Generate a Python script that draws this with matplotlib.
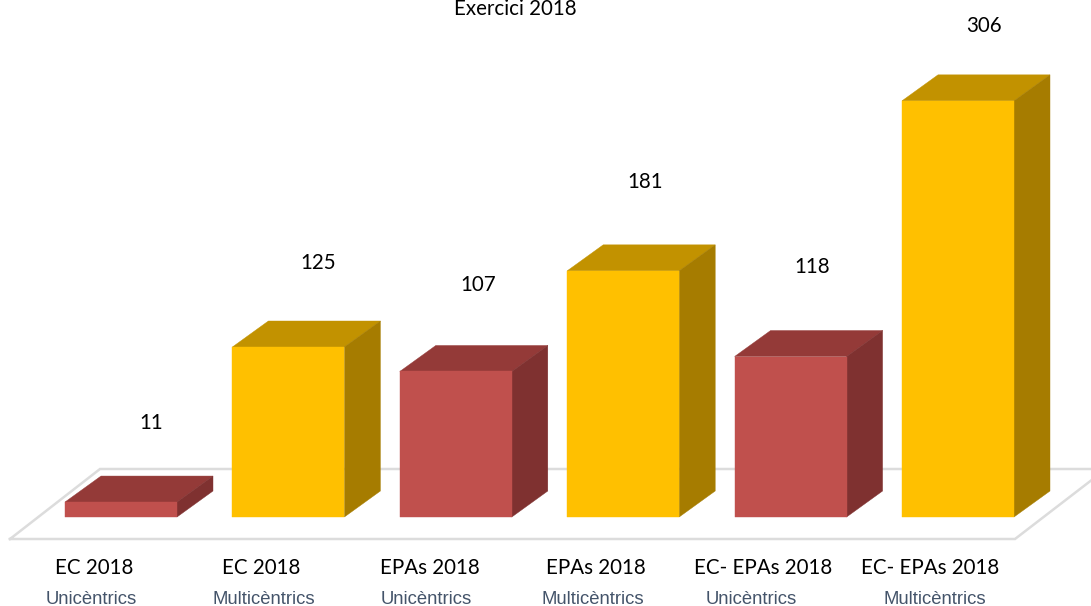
import matplotlib
matplotlib.use("Agg")
import matplotlib.pyplot as plt
from matplotlib.patches import Polygon

title = "Exercici 2018"
categories = ["EC 2018", "EC 2018", "EPAs 2018", "EPAs 2018", "EC- EPAs 2018", "EC- EPAs 2018"]
subcategories = ["Unicèntrics", "Multicèntrics", "Unicèntrics", "Multicèntrics", "Unicèntrics", "Multicèntrics"]
values = [11, 125, 107, 181, 118, 306]

# Layout (pixels)
W, H = 1091, 606
BASE_Y = 517.0
PX_PER_UNIT = 1.36
X0, STEP = 121.0, 167.4
BAR_W = 112.0
DX, DY = 36.0, 26.0
label_offset_x = [30, 30, 22, 22, 22, 26]
label_offset_y = [79, 84, 86, 89, 90, 75]
cat_offset = [-27, -27, -26, -27, -27, -28]
sub_offset = [-30, -25, -30, -30, -39, -23]
sub_y = [599, 599, 599, 599, 599, 599]

RED = ("#C0504D", "#943A38", "#7F3130")
YEL = ("#FFC000", "#C29200", "#A67C00")
palette = [RED, YEL, RED, YEL, RED, YEL]

fig = plt.figure(figsize=(W / 100, H / 100), dpi=100)
ax = fig.add_axes([0, 0, 1, 1])
ax.set_xlim(-X0 / STEP, (W - X0) / STEP)
ax.set_ylim(-(H - BASE_Y) / PX_PER_UNIT, BASE_Y / PX_PER_UNIT)
ax.axis("off")

dx = DX / STEP
dy = DY / PX_PER_UNIT
bw = BAR_W / STEP


def X(px):
    return (px - X0) / STEP


def Y(py):
    return (BASE_Y - py) / PX_PER_UNIT


# Floor
floor = [(10, 539), (1015, 539), (1106, 469), (100, 469), (10, 539)]
ax.plot([X(p[0]) for p in floor], [Y(p[1]) for p in floor], color="#DCDCDC", lw=1.8,
        solid_joinstyle="miter", zorder=1)

font_cat = ["Lato", "DejaVu Sans"]
for i, v in enumerate(values):
    front, top, side = palette[i]
    l, r = i - bw / 2, i + bw / 2
    ax.add_patch(Polygon([(l, v), (r, v), (r + dx, v + dy), (l + dx, v + dy)],
                         closed=True, facecolor=top, edgecolor=top, lw=0.3, zorder=3))
    ax.add_patch(Polygon([(r, 0), (r + dx, dy), (r + dx, v + dy), (r, v)],
                         closed=True, facecolor=side, edgecolor=side, lw=0.3, zorder=3))
    ax.bar(i, v, width=bw, bottom=0, color=front, edgecolor=front, linewidth=0.3, zorder=4)
    ax.annotate(str(v), xy=(i, v), xytext=(label_offset_x[i] * 0.72, label_offset_y[i] * 0.72),
                textcoords="offset points", ha="center", va="center",
                fontsize=14.8, family=font_cat, color="black")
    ax.text(i + cat_offset[i] / STEP, Y(568), categories[i], ha="center", va="center",
            fontsize=14.8, family=font_cat, color="black")
    ax.text(i + sub_offset[i] / STEP, Y(sub_y[i]), subcategories[i], ha="center", va="center",
            fontsize=13.3, family="Liberation Sans", color="#44546A")

ax.text(X(515), Y(9), title, ha="center", va="center", fontsize=14.8, family=font_cat,
        color="black")

fig.savefig("out.png", dpi=100, facecolor="white")
